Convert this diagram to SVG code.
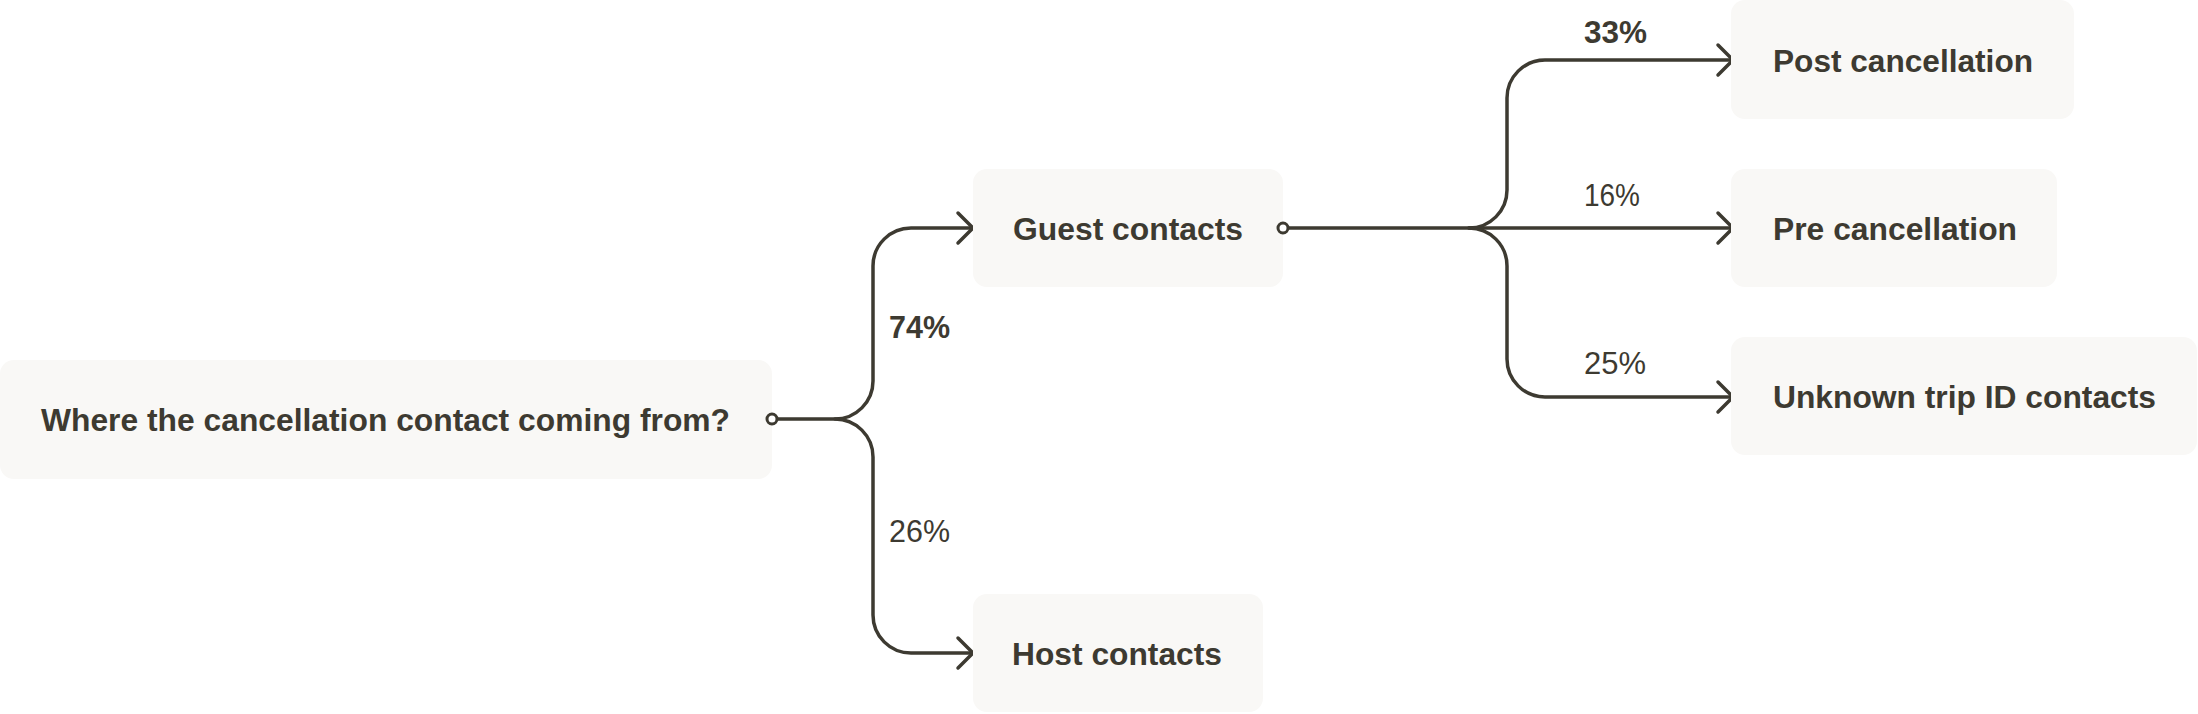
<svg xmlns="http://www.w3.org/2000/svg" width="2198" height="714" viewBox="0 0 2198 714">
<style>
.box{fill:#F9F8F6;}
.lbl{font-family:"Liberation Sans",Arial,sans-serif;font-weight:bold;font-size:32px;fill:#3D3A31;}
.pct{font-family:"Liberation Sans",Arial,sans-serif;font-size:31px;fill:#3D3A31;}
.pb{font-weight:bold;}
.ln{fill:none;stroke:#3D3A31;stroke-width:3.5;stroke-linecap:round;stroke-linejoin:round;}
.dot{fill:#ffffff;stroke:#3D3A31;stroke-width:3;}
</style>
<rect width="2198" height="714" fill="#ffffff"/>
<g id="connectors">
<path class="ln" d="M 772 419 H 835 A 38 38 0 0 0 873 381 V 266 A 38 38 0 0 1 911 228 H 973"/>
<path class="ln" d="M 958 213 L 973 228 L 958 243"/>
<path class="ln" d="M 835 419 A 38 38 0 0 1 873 457 V 615 A 38 38 0 0 0 911 653 H 973"/>
<path class="ln" d="M 958 638 L 973 653 L 958 668"/>
<path class="ln" d="M 1283 228 H 1469 A 38 38 0 0 0 1507 190 V 98 A 38 38 0 0 1 1545 60 H 1733"/>
<path class="ln" d="M 1718 45 L 1733 60 L 1718 75"/>
<path class="ln" d="M 1469 228 H 1733"/>
<path class="ln" d="M 1718 213 L 1733 228 L 1718 243"/>
<path class="ln" d="M 1469 228 A 38 38 0 0 1 1507 266 V 359 A 38 38 0 0 0 1545 397 H 1733"/>
<path class="ln" d="M 1718 382 L 1733 397 L 1718 412"/>
<text class="pct pb" x="889" y="338" textLength="61" lengthAdjust="spacingAndGlyphs">74%</text>
<text class="pct" x="889" y="542" textLength="61" lengthAdjust="spacingAndGlyphs">26%</text>
<text class="pct pb" x="1584" y="43" textLength="63" lengthAdjust="spacingAndGlyphs">33%</text>
<text class="pct" x="1584" y="206" textLength="56" lengthAdjust="spacingAndGlyphs">16%</text>
<text class="pct" x="1584" y="374" textLength="62" lengthAdjust="spacingAndGlyphs">25%</text>
</g>
<g id="root">
<rect class="box" x="0" y="360" width="772" height="119" rx="14"/>
<text class="lbl" x="41" y="431" textLength="689" lengthAdjust="spacingAndGlyphs">Where the cancellation contact coming from?</text>
</g>
<g id="guest">
<rect class="box" x="973" y="169" width="310" height="118" rx="14"/>
<text class="lbl" x="1013" y="240" textLength="230" lengthAdjust="spacingAndGlyphs">Guest contacts</text>
</g>
<g id="host">
<rect class="box" x="973" y="594" width="290" height="118" rx="14"/>
<text class="lbl" x="1012" y="665" textLength="210" lengthAdjust="spacingAndGlyphs">Host contacts</text>
</g>
<g id="post">
<rect class="box" x="1731" y="0" width="343" height="119" rx="14"/>
<text class="lbl" x="1773" y="72" textLength="260" lengthAdjust="spacingAndGlyphs">Post cancellation</text>
</g>
<g id="pre">
<rect class="box" x="1731" y="169" width="326" height="118" rx="14"/>
<text class="lbl" x="1773" y="240" textLength="244" lengthAdjust="spacingAndGlyphs">Pre cancellation</text>
</g>
<g id="unknown">
<rect class="box" x="1731" y="337" width="466" height="118" rx="14"/>
<text class="lbl" x="1773" y="408" textLength="383" lengthAdjust="spacingAndGlyphs">Unknown trip ID contacts</text>
</g>
<g id="ports">
<circle class="dot" cx="772" cy="419" r="5"/>
<circle class="dot" cx="1283" cy="228" r="5"/>
</g>
</svg>
